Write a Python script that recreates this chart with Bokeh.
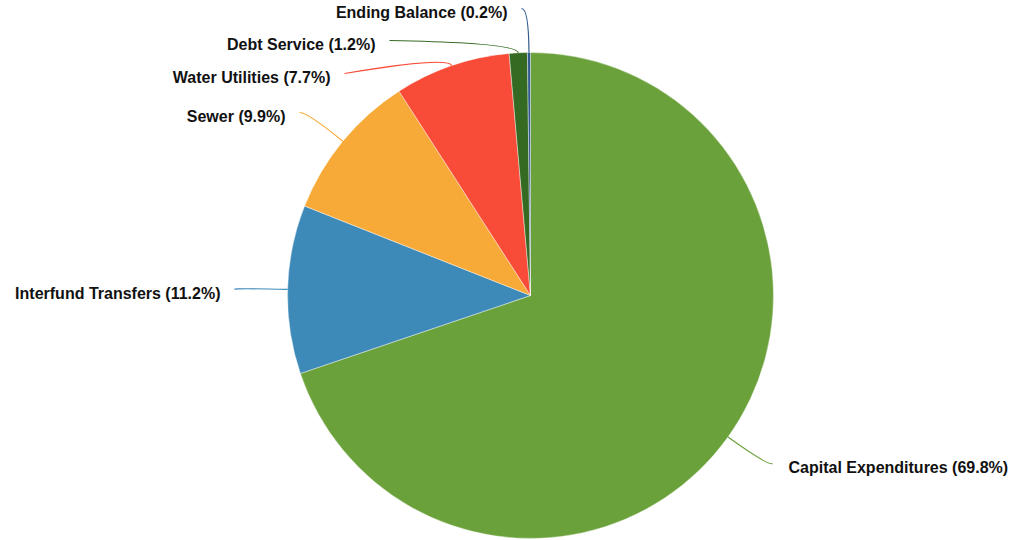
import numpy as np
from bokeh.plotting import figure
from bokeh.models import Range1d, ColumnDataSource
from bokeh.core.properties import value
from bokeh.embed import file_html
from bokeh.resources import INLINE

# ---- data ----
categories = ["Capital Expenditures", "Interfund Transfers", "Sewer",
              "Water Utilities", "Debt Service", "Ending Balance"]
shares = [69.8, 11.2, 9.9, 7.7, 1.2, 0.2]
colors = ["#6aa13a", "#3d8ab8", "#f8aa38", "#f94c38", "#346a22", "#2f5a8c"]

# ---- layout (pixel coordinates, y measured downward) ----
W, H = 1013, 540
CX, CY, R = 530, 295, 243
leader_ext = [50, 54, 45, 10, 10, 44]          # radial run of each leader line
label_x = [788, 220, 285, 330, 375, 507]       # label anchor x
label_y = [467, 293, 116, 77, 44, 12]          # label centre y
label_side = ["left", "right", "right", "right", "right", "right"]
GAP = 14
LINE_DY = 4

p = figure(width=W, height=H, output_backend="svg", toolbar_location=None,
           x_range=Range1d(0, W), y_range=Range1d(-H, 0),
           min_border=0)
p.axis.visible = False
p.grid.visible = False
p.outline_line_color = None
p.background_fill_color = "white"

frac = np.array(shares) / sum(shares)
cum = np.concatenate([[0], np.cumsum(frac)])
start = np.pi / 2 - 2 * np.pi * cum[1:]
end = np.pi / 2 - 2 * np.pi * cum[:-1]
mid = (start + end) / 2

src = ColumnDataSource(dict(start=start, end=end, color=colors))
p.wedge(x=CX, y=-CY, radius=R, start_angle="start", end_angle="end",
        fill_color="color", line_color="white", line_width=0.6, line_alpha=0.7,
        source=src)

# leader lines
ext = np.array(leader_ext)
ax = CX + R * np.cos(mid)
ay = -CY + R * np.sin(mid)
bx = CX + (R + ext) * np.cos(mid)
by = -CY + (R + ext) * np.sin(mid)
cx_end = np.array([lx + GAP if s == "right" else lx - GAP - 2
                   for lx, s in zip(label_x, label_side)], dtype=float)
cy_end = -(np.array(label_y) - LINE_DY)
p.quadratic(x0=ax, y0=ay, x1=cx_end, y1=cy_end, cx=bx, cy=by,
            line_color=colors, line_width=1.2)

texts = [f"{c} ({v:.1f}%)" for c, v in zip(categories, shares)]
lsrc = ColumnDataSource(dict(x=label_x, y=[-y for y in label_y], t=texts,
                             align=label_side))
p.text(x="x", y="y", text="t", text_align="align", text_baseline="middle",
       text_font=value("Liberation Sans"), text_font_style="bold",
       text_font_size="16px", text_color="#111111", source=lsrc)

open("out.html", "w").write(file_html(p, INLINE))
